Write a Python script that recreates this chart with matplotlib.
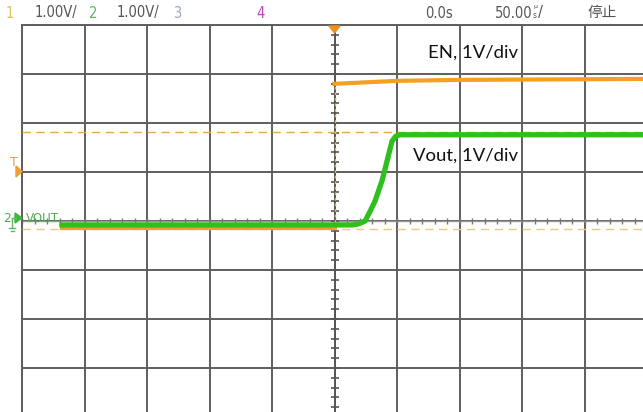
import matplotlib
matplotlib.use("Agg")
from matplotlib import pyplot as plt
import numpy as np

# time in divisions (50us/div), voltage in divisions (1V/div)
en_t = [-4.36, 0.0, 0.0, 0.5, 1.0, 2.0, 3.5, 5.0]
en_v = [-0.14, -0.14, 2.80, 2.83, 2.86, 2.88, 2.89, 2.90]

vout_t = [-4.36, 0.28, 0.38, 0.49, 0.57, 0.65, 0.76, 0.84, 0.92, 0.98, 1.05, 5.0]
vout_v = [-0.08, -0.08, -0.06, 0.0, 0.2, 0.41, 0.82, 1.22, 1.63, 1.73, 1.76, 1.76]

cursor_hi = 1.82
cursor_lo = -0.16

header = [("1", "#d9c46a"), ("1.00V/", "#555555"), ("2", "#5fb35f"),
          ("1.00V/", "#555555"), ("3", "#9aa6c2"), ("4", "#c046c0"),
          ("0.0s", "#555555")]
header_x = [6, 35, 89, 117, 173, 256, 425]

W, H = 643, 412
fig = plt.figure(figsize=(W / 100, H / 100), dpi=100)
ax = fig.add_axes([22 / W, -5 / H, 625 / W, 392 / H])
ax.set_xlim(-5, 5)
ax.set_ylim(-4, 4)
ax.set_xticks(range(-5, 6))
ax.set_yticks(range(-4, 5))
ax.tick_params(length=0, labelbottom=False, labelleft=False)
ax.grid(True, color="#5e5e5e", lw=1.4)
for s in ax.spines.values():
    s.set_color("#5e5e5e")
    s.set_linewidth(1.4)

# center axes with minor ticks
ax.axvline(0, color="#555555", lw=1.2, zorder=2)
ax.axhline(0, color="#9a9a9a", lw=1.0, zorder=2)
mt = np.arange(-5, 5.01, 0.2)
ax.plot(mt, np.zeros_like(mt), ls="none", marker="|", ms=5, mew=1.0,
        color="#777777", zorder=2)
mv = np.arange(-4, 4.01, 0.2)
ax.plot(np.zeros_like(mv), mv, ls="none", marker="_", ms=6, mew=1.2,
        color="#555555", zorder=2)

# cursors
ax.axhline(cursor_hi, color="#e8a848", lw=1.0, ls=(0, (6, 4)), zorder=3)
ax.axhline(cursor_lo, color="#ecc880", lw=1.0, ls=(0, (6, 4)), zorder=3)

# traces (EN edge is too fast, drawn as a faint dotted line)
ax.plot(en_t[:2], en_v[:2], color="#f5a020", lw=3.0, zorder=4)
ax.plot(en_t[1:3], en_v[1:3], color="#f2b050", lw=1.0, ls=(0, (2, 2)),
        zorder=4)
ax.plot(en_t[2:], en_v[2:], color="#f5a020", lw=3.0, zorder=4)
ax.plot(vout_t, vout_v, color="#2ec01c", lw=3.8, zorder=5)

ax.text(2.94, 3.43, "EN, 1V/div", ha="right", va="center", fontsize=13.3,
        family="Lato", color="#111111", zorder=6)
ax.text(2.94, 1.33, "Vout, 1V/div", ha="right", va="center", fontsize=13.3,
        family="Lato", color="#111111", zorder=6)

# header
for (s, c), x in zip(header, header_x):
    fig.text(x / W, 1 - 13 / H, s, color=c, fontsize=10.5, ha="left",
             va="center", stretch="condensed")
fig.text(495 / W, 1 - 13 / H, "50.00", color="#555555", fontsize=10.5,
         ha="left", va="center", stretch="condensed")
fig.text(533 / W, 1 - 6.5 / H, "µ", color="#555555", fontsize=4.5, ha="left",
         va="center")
fig.text(533 / W, 1 - 16 / H, "s", color="#555555", fontsize=5.5, ha="left",
         va="center")
fig.text(538 / W, 1 - 13 / H, "/", color="#555555", fontsize=10.5,
         ha="left", va="center")
fig.text(587 / W, 1 - 13 / H, "停止", color="#555555", fontsize=10.5,
         ha="left", va="center", family=["Noto Sans CJK SC", "DejaVu Sans"])

# left markers
fig.text(14 / W, 1 - 162 / H, "T", color="#e8a040", fontsize=9, ha="center",
         va="center")
fig.patches.append(plt.Polygon([[16 / W, 1 - 166 / H], [16 / W, 1 - 177 / H],
                                [22 / W, 1 - 171.5 / H]], closed=True,
                               transform=fig.transFigure, color="#f0a030"))
fig.text(7 / W, 1 - 218 / H, "2", color="#4caf4c", fontsize=9, ha="center",
         va="center")
fig.patches.append(plt.Polygon([[15 / W, 1 - 213 / H], [15 / W, 1 - 223 / H],
                                [22 / W, 1 - 218 / H]], closed=True,
                               transform=fig.transFigure, color="#3cb83c"))
fig.lines.append(plt.Line2D([12 / W, 12 / W], [1 - 218 / H, 1 - 228 / H],
                            transform=fig.transFigure, color="#60b860", lw=1))
fig.lines.append(plt.Line2D([12 / W, 16 / W], [1 - 218 / H, 1 - 218 / H],
                            transform=fig.transFigure, color="#60b860", lw=1))
fig.lines.append(plt.Line2D([9 / W, 15 / W], [1 - 228 / H, 1 - 228 / H],
                            transform=fig.transFigure, color="#60b860", lw=1))
fig.lines.append(plt.Line2D([10.5 / W, 13.5 / W], [1 - 231 / H, 1 - 231 / H],
                            transform=fig.transFigure, color="#60b860", lw=1))
fig.text(26 / W, 1 - 218 / H, "VOUT", color="#4caf4c", fontsize=9.5,
         ha="left", va="center", stretch="condensed")

# trigger marker
fig.patches.append(plt.Polygon([[329 / W, 1 - 26 / H], [340 / W, 1 - 26 / H],
                                [334.5 / W, 1 - 33 / H]], closed=True,
                               transform=fig.transFigure, color="#f09020"))

fig.savefig("out.png", dpi=100)
